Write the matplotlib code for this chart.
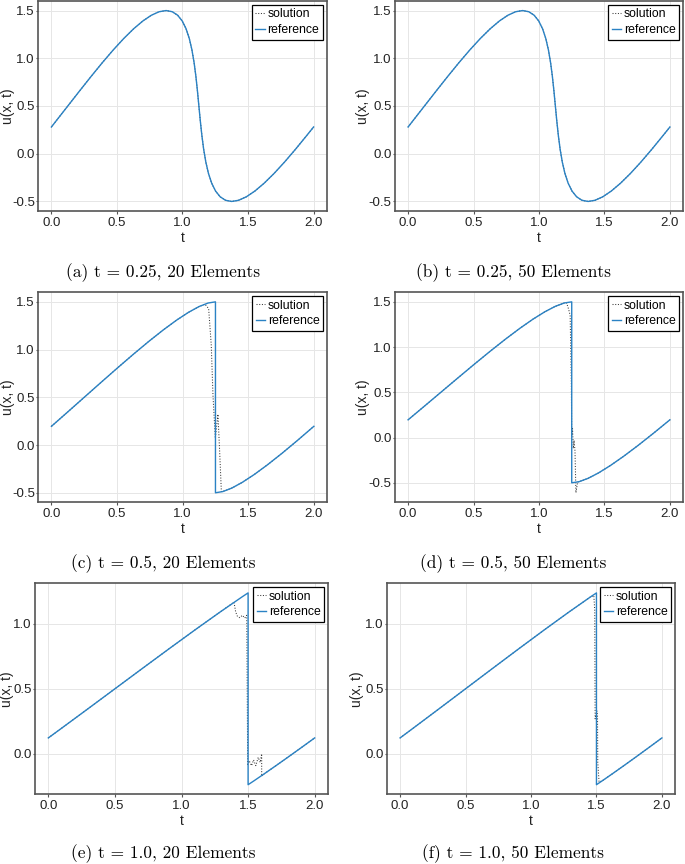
import matplotlib
matplotlib.use("Agg")
import matplotlib.pyplot as plt

plt.rcParams["font.family"] = ["Liberation Sans", "DejaVu Sans"]
plt.rcParams["axes.unicode_minus"] = False

# ---------------- data ----------------
# t = 0.25 reference (solution coincides)
x_t025 = [0.0, 0.0359, 0.125, 0.2141, 0.3023, 0.3885, 0.4720, 0.5518, 0.6273, 0.6978,
          0.7628, 0.8219, 0.875, 0.9219, 0.9628, 0.9978, 1.0273, 1.0518, 1.0720, 1.0885,
          1.1023, 1.1141, 1.125, 1.1359, 1.1478, 1.1615, 1.1780, 1.1982, 1.2227, 1.2522,
          1.2872, 1.3281, 1.375, 1.4281, 1.4872, 1.5522, 1.6227, 1.6982, 1.7780, 1.8615,
          1.9478, 2.0]
u_t025 = [0.280, 0.3436, 0.5, 0.6564, 0.809, 0.954, 1.0878, 1.2071, 1.309, 1.391,
          1.4511, 1.4877, 1.5, 1.4877, 1.4511, 1.391, 1.309, 1.2071, 1.0878, 0.954,
          0.809, 0.6564, 0.5, 0.3436, 0.191, 0.046, -0.0878, -0.2071, -0.309, -0.391,
          -0.4511, -0.4877, -0.5, -0.4877, -0.4511, -0.391, -0.309, -0.2071, -0.0878, 0.046,
          0.191, 0.280]

# t = 0.5 reference
x_t05 = [0.0, 0.1218, 0.25, 0.3782, 0.5045, 0.627, 0.7439, 0.8536, 0.9545, 1.0455,
         1.1256, 1.1939, 1.25, 1.25, 1.3061, 1.3744, 1.4545, 1.5455, 1.6464, 1.7561,
         1.873, 1.9955, 2.0]
u_t05 = [0.196, 0.3436, 0.5, 0.6564, 0.809, 0.954, 1.0878, 1.2071, 1.309, 1.391,
         1.4511, 1.4877, 1.5, -0.5, -0.4877, -0.4511, -0.391, -0.309, -0.2071, -0.0878,
         0.046, 0.191, 0.196]

# t = 0.5 solution, 20 elements
xs_c = [0.0, 0.1218, 0.25, 0.3782, 0.5045, 0.627, 0.7439, 0.8536, 0.9545, 1.0455,
        1.1256, 1.17, 1.198, 1.218, 1.231, 1.249, 1.269, 1.282, 1.295, 1.33,
        1.3744, 1.4545, 1.5455, 1.6464, 1.7561, 1.873, 1.9955, 2.0]
us_c = [0.196, 0.3436, 0.5, 0.6564, 0.809, 0.954, 1.0878, 1.2071, 1.309, 1.391,
        1.4511, 1.475, 1.43, 1.047, 0.524, 0.071, 0.322, -0.069, -0.487, -0.475,
        -0.4511, -0.391, -0.309, -0.2071, -0.0878, 0.046, 0.191, 0.196]

# t = 0.5 solution, 50 elements
xs_d = [0.0, 0.1218, 0.25, 0.3782, 0.5045, 0.627, 0.7439, 0.8536, 0.9545, 1.0455,
        1.1256, 1.1939, 1.21, 1.226, 1.238, 1.247, 1.25, 1.256, 1.262, 1.268,
        1.275, 1.282, 1.295, 1.3061, 1.3744, 1.4545, 1.5455, 1.6464, 1.7561, 1.873,
        1.9955, 2.0]
us_d = [0.196, 0.3436, 0.5, 0.6564, 0.809, 0.954, 1.0878, 1.2071, 1.309, 1.391,
        1.4511, 1.4877, 1.49, 1.42, 1.35, 0.6, 0.02, 0.1, -0.12, -0.03,
        -0.15, -0.61, -0.49, -0.4877, -0.4511, -0.391, -0.309, -0.2071, -0.0878, 0.046,
        0.191, 0.196]

# t = 1.0 reference
x_t10 = [0.0, 0.091, 0.2936, 0.5, 0.7064, 0.909, 1.104, 1.2878, 1.4571, 1.5,
         1.5, 1.5429, 1.6256, 1.7122, 1.8025, 1.896, 1.9342, 2.0]
u_t10 = [0.123, 0.191, 0.3436, 0.5, 0.6564, 0.809, 0.954, 1.0878, 1.2071, 1.2361,
         -0.2361, -0.2071, -0.1494, -0.0878, -0.0225, 0.046, 0.0742, 0.123]

# t = 1.0 solution, 20 elements
xs_e = [0.0, 0.091, 0.2936, 0.5, 0.7064, 0.909, 1.104, 1.2878, 1.394, 1.407,
        1.42, 1.437, 1.457, 1.475, 1.49, 1.497, 1.508, 1.526, 1.541, 1.558,
        1.576, 1.591, 1.602, 1.602, 1.6256, 1.7122, 1.8025, 1.896, 1.9342, 2.0]
us_e = [0.123, 0.191, 0.3436, 0.5, 0.6564, 0.809, 0.954, 1.0878, 1.165, 1.089,
        1.056, 1.046, 1.064, 1.043, 1.064, -0.08, -0.052, -0.09, -0.046, -0.09,
        -0.026, -0.065, 0.0, -0.17, -0.1494, -0.0878, -0.0225, 0.046, 0.0742, 0.123]

# t = 1.0 solution, 50 elements
xs_f = [0.0, 0.091, 0.2936, 0.5, 0.7064, 0.909, 1.104, 1.2878, 1.4571, 1.48,
        1.487, 1.49, 1.503, 1.508, 1.51, 1.52, 1.5429, 1.6256, 1.7122, 1.8025,
        1.896, 1.9342, 2.0]
us_f = [0.123, 0.191, 0.3436, 0.5, 0.6564, 0.809, 0.954, 1.0878, 1.2071, 1.215,
        1.1, 0.27, 0.33, 0.3, -0.065, -0.215, -0.2071, -0.1494, -0.0878, -0.0225,
        0.046, 0.0742, 0.123]

xticks = [0.0, 0.5, 1.0, 1.5, 2.0]
xticklabels = ["0.0", "0.5", "1.0", "1.5", "2.0"]
yticks_full = [-0.5, 0.0, 0.5, 1.0, 1.5]
yticklabels_full = ["-0.5", "0.0", "0.5", "1.0", "1.5"]
yticks_t10 = [0.0, 0.5, 1.0]
yticklabels_t10 = ["0.0", "0.5", "1.0"]

captions = ["(a) t = 0.25, 20 Elements", "(b) t = 0.25, 50 Elements",
            "(c) t = 0.5, 20 Elements", "(d) t = 0.5, 50 Elements",
            "(e) t = 1.0, 20 Elements", "(f) t = 1.0, 50 Elements"]
legend_labels = ["solution", "reference"]

# ---------------- layout ----------------
W, H = 685, 864
BLUE = "#2a82c4"


def rect(L, R, T, B):
    return (L, R, T, B)


# (frame L, R, T, B), solution, reference, yticks, yticklabels, caption centre, ylabel x centre
panels = [
    (rect(38.3, 326.7, 1, 211), (x_t025, u_t025), (x_t025, u_t025), yticks_full, yticklabels_full, (163, 272.7), 7.5),
    (rect(395, 683, 1, 211), (x_t025, u_t025), (x_t025, u_t025), yticks_full, yticklabels_full, (513, 272.7), 363),
    (rect(38.3, 327, 292.3, 502.3), (xs_c, us_c), (x_t05, u_t05), yticks_full, yticklabels_full, (163, 563.5), 7.5),
    (rect(395, 683, 292.3, 502.3), (xs_d, us_d), (x_t05, u_t05), yticks_full, yticklabels_full, (513, 563.5), 363),
    (rect(35, 328, 583.3, 794.3), (xs_e, us_e), (x_t10, u_t10), yticks_t10, yticklabels_t10, (163, 854), 7.5),
    (rect(387, 675, 583.3, 794.3), (xs_f, us_f), (x_t10, u_t10), yticks_t10, yticklabels_t10, (513, 854), 357),
]

fig = plt.figure(figsize=(W / 100, H / 100), dpi=100)

for ((L, R, T, B), sol, ref, yt, ytl, cap_pos, ylx), cap in zip(panels, captions):
    ax = fig.add_axes([L / W, 1 - B / H, (R - L) / W, (B - T) / H])
    ax.plot(sol[0], sol[1], color="#3a3a3a", ls=(0, (1, 1.6)), lw=0.75, label=legend_labels[0])
    ax.plot(ref[0], ref[1], color=BLUE, lw=1.0, label=legend_labels[1])
    ax.set_xticks(xticks)
    ax.set_xticklabels(xticklabels)
    ax.set_yticks(yt)
    ax.set_yticklabels(ytl)
    ax.grid(True, color="#e6e6e6", lw=0.7)
    ax.set_axisbelow(True)
    for s in ax.spines.values():
        s.set_color("#555555")
        s.set_linewidth(1.2)
    ax.tick_params(axis="x", direction="out", length=2, width=0.8, color="#555555",
                   labelsize=9.5, pad=2.2, labelcolor="#222222")
    ax.tick_params(axis="y", direction="out", length=1.5, width=0.8, color="#555555",
                   labelsize=9.5, pad=1.0, labelcolor="#222222")
    ax.set_xlabel("t", fontsize=10, labelpad=1.5, color="#222222")
    ax.set_ylabel("u(x, t)", fontsize=10, color="#222222", va="center")
    ax.yaxis.set_label_coords((ylx - L) / (R - L), 0.5)
    leg = ax.legend(loc="upper right", fontsize=8.8, frameon=True, fancybox=False,
                    edgecolor="black", framealpha=1, handlelength=0.8, handletextpad=0.2,
                    borderpad=0.3, labelspacing=0.3, borderaxespad=0.3)
    leg.get_frame().set_linewidth(0.9)
    fig.text(cap_pos[0] / W, 1 - cap_pos[1] / H, cap, ha="center", va="center",
             fontsize=12.5, family=["cmr10", "DejaVu Serif"])

fig.savefig("out.png", dpi=100)
